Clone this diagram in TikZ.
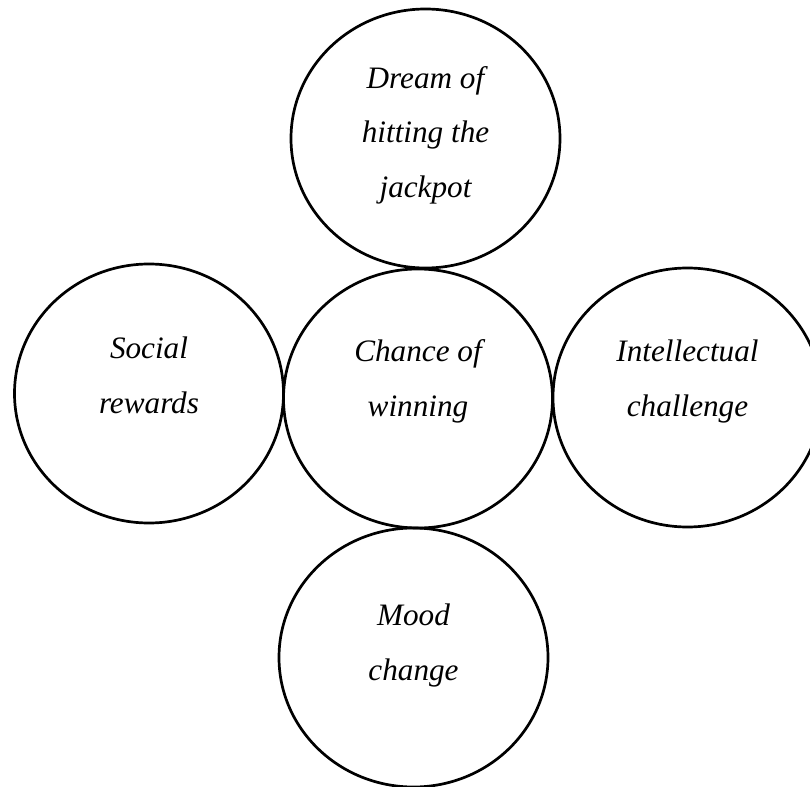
\documentclass[tikz,border=0pt]{standalone}
\usepackage{fontspec}
\setmainfont{Liberation Serif}
\usetikzlibrary{shapes.geometric,calc}
\tikzset{
  bubble/.style={draw=black, line width=1.35pt, ellipse, minimum width=134.5pt, minimum height=129.5pt, inner sep=0pt},
  txt/.style={align=center, inner sep=0pt, anchor=base, font=\fontsize{15.6pt}{27.25pt}\selectfont\itshape}
}
\begin{document}
\begin{tikzpicture}[x=0.5pt,y=-0.5pt]
\useasboundingbox (0,0) rectangle (810,787);
\node[bubble] (top) at (425.5,138.5) {};
\node[bubble] (left) at (149,393.5) {};
\node[bubble] (mid) at (418,398.5) {};
\node[bubble] (right) at (687.5,397.5) {};
\node[bubble] (bot) at (413.5,657.5) {};
\node[txt] (ttop) at ($(top.center)+(0,58.5)$) {Dream of\\hitting the\\jackpot};
\node[txt] (tleft) at ($(left.center)+(0,19.5)$) {Social\\rewards};
\node[txt] (tmid) at ($(mid.center)+(0,17.5)$) {Chance of\\winning};
\node[txt] (tright) at ($(right.center)+(0,18.5)$) {Intellectual\\challenge};
\node[txt] (tbot) at ($(bot.center)+(0,22.5)$) {Mood\\change};
\end{tikzpicture}
\end{document}
